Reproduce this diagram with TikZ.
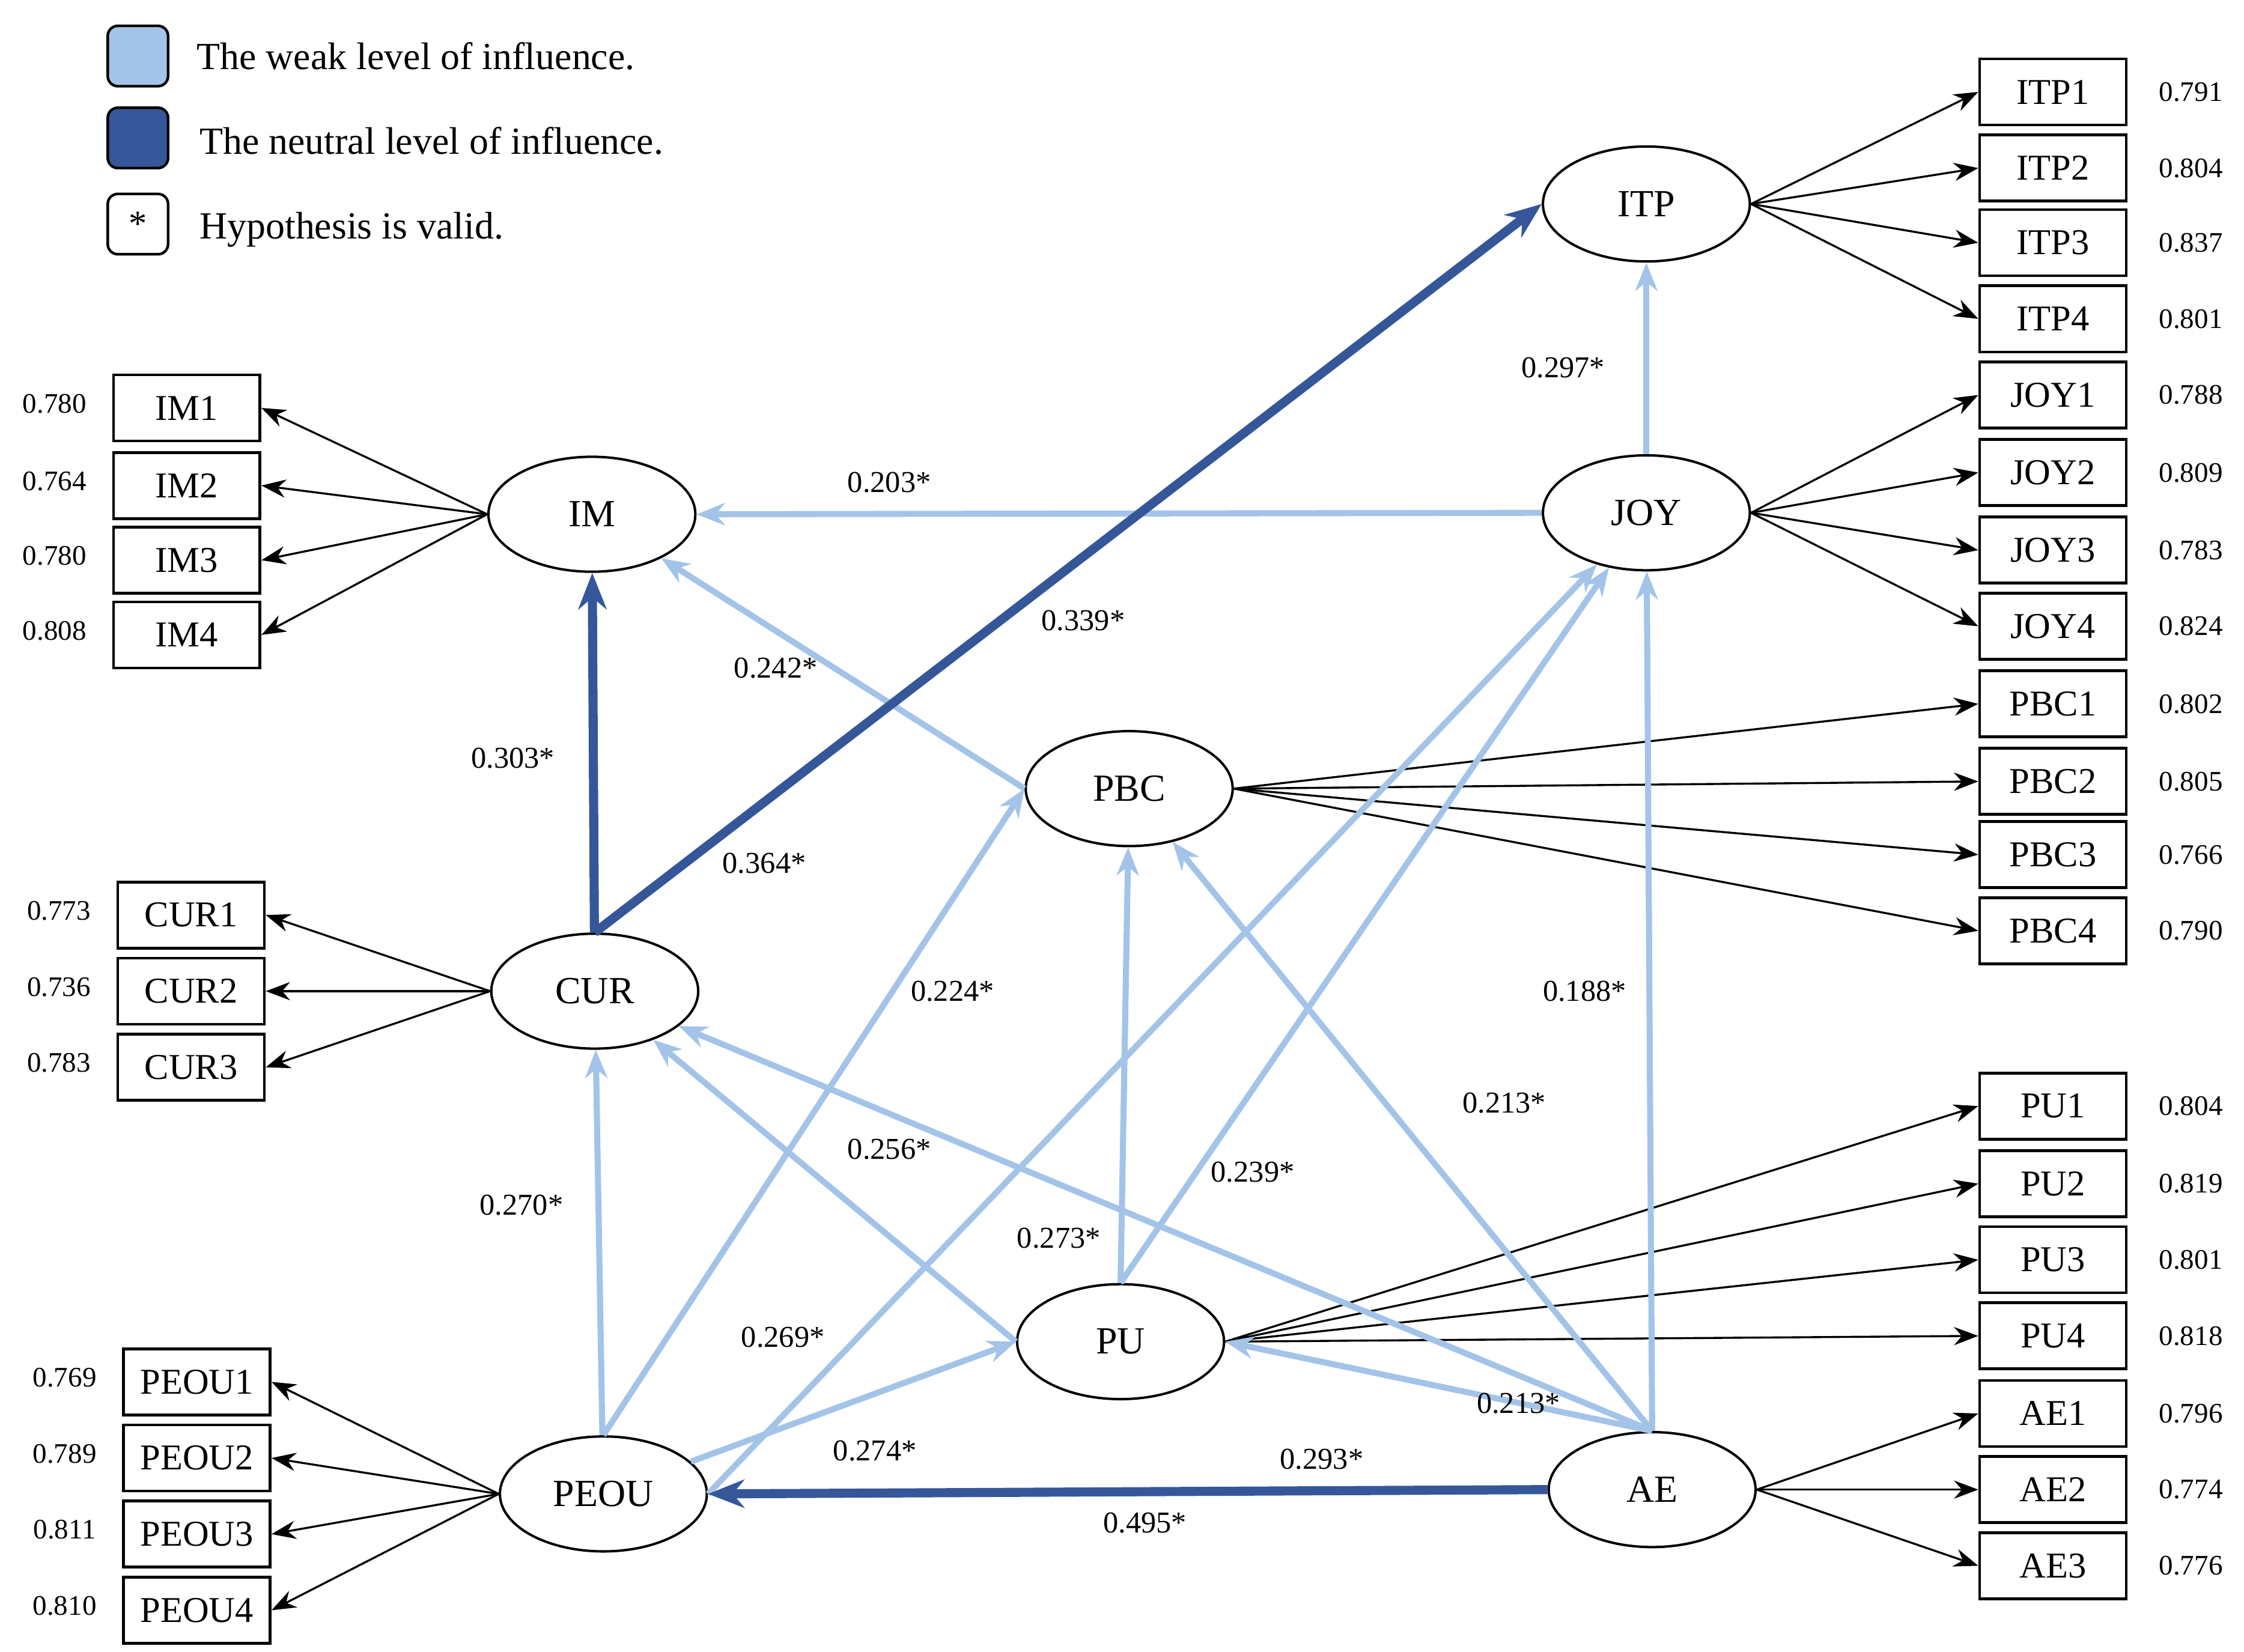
\documentclass[tikz,border=0pt]{standalone}
\usepackage{fontspec}
\setmainfont{Liberation Serif}
\usetikzlibrary{shapes.geometric,arrows.meta}
\definecolor{lt}{HTML}{A3C4E8}
\definecolor{dk}{HTML}{35579A}
\begin{document}
\begin{tikzpicture}[x=0.025cm,y=-0.025cm,
 lat/.style={ellipse,draw,line width=1.2pt,minimum width=3.6cm,minimum height=2cm,font=\fontsize{19}{21}\selectfont},
 ind/.style={rectangle,draw,line width=1.4pt,minimum width=2.55cm,minimum height=1.15cm,inner sep=0pt,font=\fontsize{18}{20}\selectfont},
 val/.style={font=\fontsize{14}{16}\selectfont},
 lab/.style={font=\fontsize{15}{17}\selectfont},
 ld/.style={-{Stealth[length=12pt,width=9pt]},line width=1pt},
 wk/.style={-{Stealth[length=14pt,width=11pt]},lt,line width=3pt},
 st/.style={-{Stealth[length=18pt,width=14pt]},dk,line width=4.5pt},
 lg/.style={rectangle,rounded corners=5pt,minimum size=1.05cm,line width=1.3pt}]
\useasboundingbox (0,0) rectangle (1562,1150);
% legend
\node[lg,fill=lt,draw=black] (L1) at (96,39) {};
\node[lg,fill=dk,draw=black] (L2) at (96,96) {};
\node[lg,draw=black,font=\fontsize{18}{20}\selectfont] (L3) at (96,156) {*};
\node[anchor=west,font=\fontsize{19}{21}\selectfont] (T1) at (132,39) {The weak level of influence.};
\node[anchor=west,font=\fontsize{19}{21}\selectfont] (T2) at (134,98) {The neutral level of influence.};
\node[anchor=west,font=\fontsize{19}{21}\selectfont] (T3) at (134,160) {Hypothesis is valid.};
% latents
\node[lat] (ITP) at (1146,142) {ITP};
\node[lat] (JOY) at (1146,357) {JOY};
\node[lat] (IM) at (412,358) {IM};
\node[lat] (PBC) at (786,549) {PBC};
\node[lat] (CUR) at (414,690) {CUR};
\node[lat] (PU) at (780,934) {PU};
\node[lat] (PEOU) at (420,1040) {PEOU};
\node[lat] (AE) at (1150,1037) {AE};
% right indicators
\foreach \n/\y/\v/\p in {ITP1/64/0.791/ITP,ITP2/117/0.804/ITP,ITP3/169/0.837/ITP,ITP4/222/0.801/ITP,
 JOY1/275/0.788/JOY,JOY2/329/0.809/JOY,JOY3/383/0.783/JOY,JOY4/436/0.824/JOY,
 PBC1/490/0.802/PBC,PBC2/544/0.805/PBC,PBC3/595/0.766/PBC,PBC4/648/0.790/PBC,
 PU1/770/0.804/PU,PU2/824/0.819/PU,PU3/877/0.801/PU,PU4/930/0.818/PU,
 AE1/984/0.796/AE,AE2/1037/0.774/AE,AE3/1090/0.776/AE}{
 \node[ind] (\n) at (1429,\y) {\n};
 \node[val] (v\n) at (1525,\y) {\v};
 \draw[ld] (\p.east) -- (\n.west);
}
% left indicators
\foreach \n/\x/\y/\v/\p in {IM1/130/284/0.780/IM,IM2/130/338/0.764/IM,IM3/130/390/0.780/IM,IM4/130/442/0.808/IM,
 CUR1/133/637/0.773/CUR,CUR2/133/690/0.736/CUR,CUR3/133/743/0.783/CUR,
 PEOU1/137/962/0.769/PEOU,PEOU2/137/1015/0.789/PEOU,PEOU3/137/1068/0.811/PEOU,PEOU4/137/1121/0.810/PEOU}{
 \node[ind] (\n) at (\x,\y) {\n};
 \node[val] (v\n) at (\x-92,\y-3) {\v};
 \draw[ld] (\p.west) -- (\n.east);
}
% structural paths
\draw[wk] (JOY) -- (ITP);
\draw[wk] (JOY.west) -- (IM.east);
\draw[wk] (PBC.west) -- (IM);
\draw[wk] (PEOU) -- (CUR);
\draw[wk] (PEOU.north) -- (PBC.west);
\draw[wk] (PEOU.east) -- (JOY);
\draw[wk] (PEOU) -- (PU.west);
\draw[wk] (PU.west) -- (CUR);
\draw[wk] (PU.north) -- (PBC);
\draw[wk] (PU.north) -- (JOY);
\draw[wk] (AE.north) -- (PU.east);
\draw[wk] (AE.north) -- (CUR);
\draw[wk] (AE.north) -- (PBC);
\draw[wk] (AE.north) -- (JOY);
\draw[st] (CUR) -- (IM);
\draw[st] (CUR.north) -- (ITP.west);
\draw[st] (AE.west) -- (PEOU.east);
% labels
\node[lab] (a1) at (1088,256) {0.297*};
\node[lab] (a2) at (619,336) {0.203*};
\node[lab] (a3) at (754,432) {0.339*};
\node[lab] (a4) at (540,465) {0.242*};
\node[lab] (a5) at (357,528) {0.303*};
\node[lab] (a6) at (532,601) {0.364*};
\node[lab] (a7) at (663,690) {0.224*};
\node[lab] (a8) at (1103,690) {0.188*};
\node[lab] (a9) at (1047,768) {0.213*};
\node[lab] (a10) at (619,800) {0.256*};
\node[lab] (a11) at (872,816) {0.239*};
\node[lab] (a12) at (363,839) {0.270*};
\node[lab] (a13) at (737,862) {0.273*};
\node[lab] (a14) at (545,931) {0.269*};
\node[lab] (a15) at (1057,977) {0.213*};
\node[lab] (a16) at (609,1010) {0.274*};
\node[lab] (a17) at (920,1016) {0.293*};
\node[lab] (a18) at (797,1060) {0.495*};
\end{tikzpicture}
\end{document}
